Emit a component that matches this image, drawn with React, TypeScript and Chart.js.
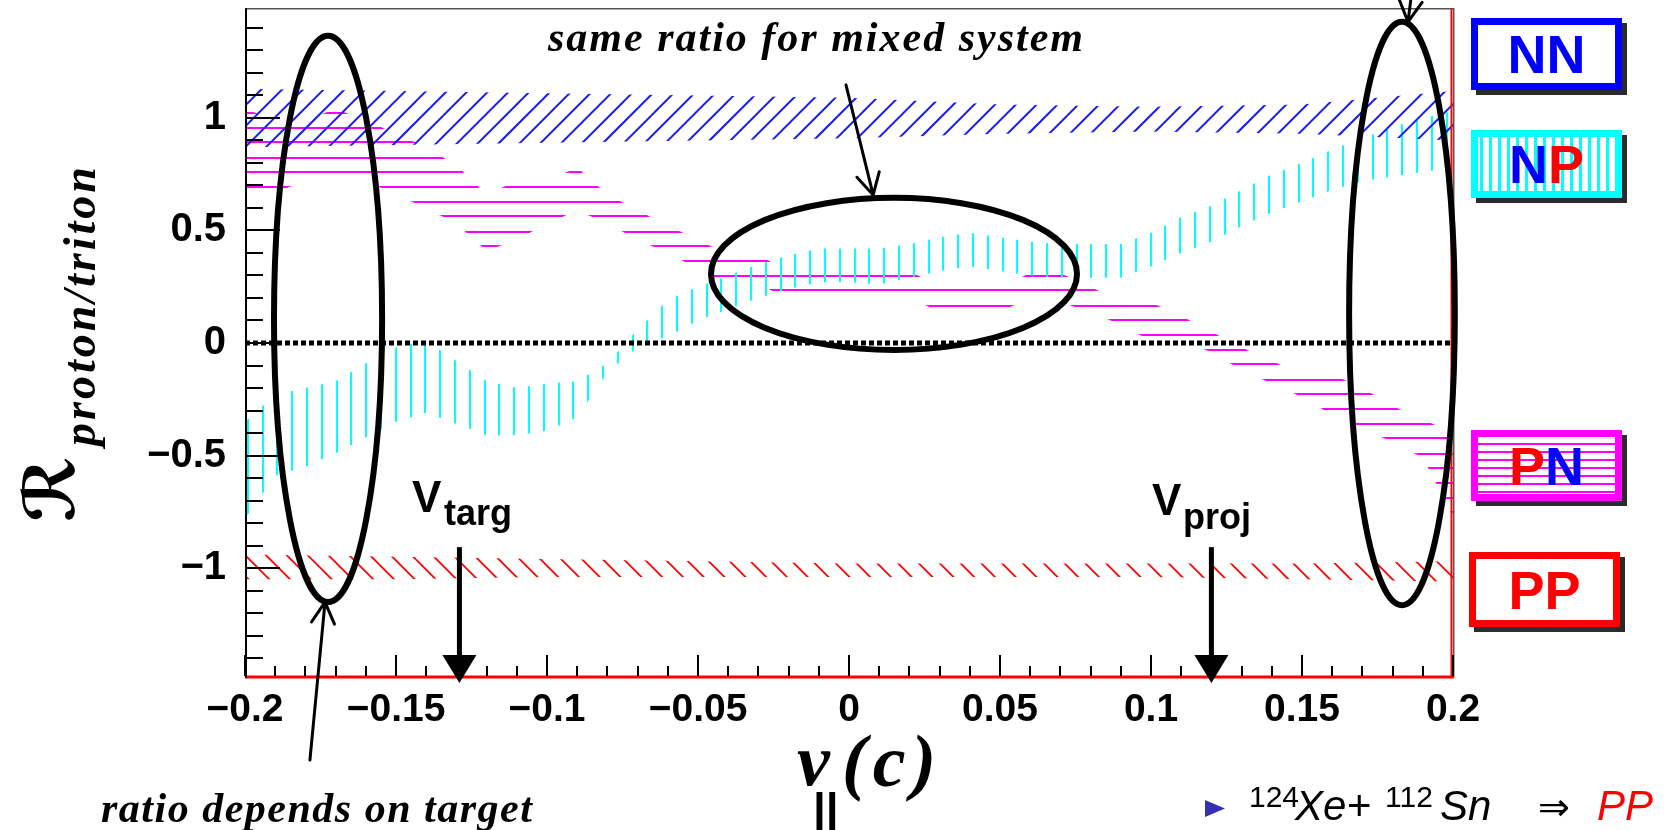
import React, { useEffect, useRef } from 'react';
import { Chart, registerables } from 'chart.js';

Chart.register(...registerables);

const W = 1665;
const H = 830;

// ---------- data ----------
const X_POINTS = [-0.2, -0.19, -0.18, -0.17, -0.16, -0.15, -0.14, -0.13, -0.12, -0.11, -0.1, -0.09, -0.08, -0.07, -0.06, -0.05, -0.04, -0.03, -0.02, -0.01, 0, 0.01, 0.02, 0.03, 0.04, 0.05, 0.06, 0.07, 0.08, 0.09, 0.1, 0.11, 0.12, 0.13, 0.14, 0.15, 0.16, 0.17, 0.18, 0.19, 0.2];

const NP_UPPER = [-0.35, -0.23, -0.2, -0.17, -0.09, -0.02, 0.01, -0.08, -0.17, -0.2, -0.18, -0.17, -0.09, 0.06, 0.19, 0.25, 0.3, 0.35, 0.39, 0.42, 0.42, 0.42, 0.44, 0.47, 0.49, 0.47, 0.45, 0.44, 0.44, 0.44, 0.49, 0.56, 0.61, 0.68, 0.75, 0.8, 0.86, 0.91, 0.96, 1.0, 1.03];
const NP_LOWER = [-0.78, -0.59, -0.55, -0.49, -0.42, -0.35, -0.31, -0.36, -0.41, -0.41, -0.39, -0.33, -0.13, -0.02, 0.03, 0.1, 0.15, 0.2, 0.24, 0.27, 0.27, 0.26, 0.29, 0.32, 0.34, 0.32, 0.3, 0.29, 0.29, 0.29, 0.34, 0.4, 0.45, 0.52, 0.58, 0.63, 0.68, 0.72, 0.74, 0.76, 0.78];

const PN_UPPER = [1.04, 0.99, 0.99, 1.04, 0.99, 0.93, 0.87, 0.79, 0.66, 0.72, 0.72, 0.78, 0.66, 0.59, 0.52, 0.46, 0.39, 0.39, 0.32, 0.32, 0.32, 0.32, 0.32, 0.25, 0.25, 0.25, 0.31, 0.31, 0.25, 0.18, 0.18, 0.12, 0.05, -0.02, -0.08, -0.14, -0.14, -0.2, -0.28, -0.34, -0.4];
const PN_LOWER = [0.67, 0.67, 0.72, 0.72, 0.72, 0.66, 0.6, 0.53, 0.41, 0.46, 0.53, 0.59, 0.53, 0.46, 0.4, 0.33, 0.26, 0.26, 0.2, 0.2, 0.2, 0.2, 0.2, 0.14, 0.14, 0.14, 0.2, 0.18, 0.14, 0.08, 0.01, 0.01, -0.04, -0.12, -0.18, -0.24, -0.32, -0.38, -0.44, -0.51, -0.77];

const COARSE_X = [-0.2, -0.15, -0.1, -0.05, 0, 0.05, 0.1, 0.15, 0.2];
const NN_UPPER = [1.13, 1.12, 1.11, 1.1, 1.09, 1.06, 1.05, 1.06, 1.12];
const NN_LOWER = [0.87, 0.88, 0.89, 0.9, 0.91, 0.93, 0.94, 0.93, 0.9];
const PP_UPPER = [-0.94, -0.95, -0.96, -0.97, -0.98, -0.98, -0.98, -0.98, -0.97];
const PP_LOWER = [-1.05, -1.05, -1.04, -1.04, -1.04, -1.04, -1.04, -1.05, -1.06];

const ZERO_X = [-0.2, 0.2];
const ZERO_Y = [0, 0];

const X_TICKS = [-0.2, -0.15, -0.1, -0.05, 0, 0.05, 0.1, 0.15, 0.2];
const Y_TICKS = [-1, -0.5, 0, 0.5, 1];
const X_RANGE = [-0.2, 0.2];
const Y_RANGE = [-1.484, 1.484];

// annotations (data units)
const ELLIPSES = [
  { cx: -0.1725, cy: 0.107, rx: 0.0179, ry: 1.258 },
  { cx: 0.0149, cy: 0.307, rx: 0.0606, ry: 0.338 },
  { cx: 0.1831, cy: 0.131, rx: 0.0175, ry: 1.296 },
];
const POINTER_ARROWS = [
  { x0: -0.001, y0: 1.147, x1: 0.008, y1: 0.658 },
  { x0: -0.1785, y0: -1.853, x1: -0.1735, y1: -1.151 },
  { x0: 0.1877, y0: 1.702, x1: 0.1851, y1: 1.427 },
];
const V_TARG = -0.129;
const V_PROJ = 0.12;
const V_ARROW_TOP = -0.907;
const V_ARROW_TIP = -1.511;

// ---------- styles ----------
const BLUE = '#1a1aff';
const CYAN = '#00ffff';
const MAGENTA = '#ff00ff';
const RED = '#ff0000';
const SANS = '"Liberation Sans", Arial, Helvetica, sans-serif';
const SERIF = '"Liberation Serif", "Times New Roman", Times, serif';

function fmtTick(v: number) {
  if (v === 0) return '0';
  return (v < 0 ? '\u2212' : '') + String(Math.abs(v));
}

function pts(xs: number[], ys: number[]) {
  return xs.map((x, i) => ({ x, y: ys[i] }));
}

function tile(w: number, h: number, draw: (g: CanvasRenderingContext2D) => void) {
  const c = document.createElement('canvas');
  c.width = w;
  c.height = h;
  const g = c.getContext('2d')!;
  draw(g);
  return c;
}

function openArrow(ctx: CanvasRenderingContext2D, x0: number, y0: number, x1: number, y1: number, lw: number) {
  ctx.save();
  ctx.strokeStyle = '#000';
  ctx.lineWidth = lw;
  ctx.lineCap = 'round';
  ctx.beginPath();
  ctx.moveTo(x0, y0);
  ctx.lineTo(x1, y1);
  const a = Math.atan2(y1 - y0, x1 - x0);
  const L = 24;
  const t = 0.5;
  ctx.moveTo(x1 - L * Math.cos(a - t), y1 - L * Math.sin(a - t));
  ctx.lineTo(x1, y1);
  ctx.lineTo(x1 - L * Math.cos(a + t), y1 - L * Math.sin(a + t));
  ctx.stroke();
  ctx.restore();
}

function drawPieces(ctx: CanvasRenderingContext2D, pieces: { t: string; c: string }[], cx: number, base: number, font: string) {
  ctx.font = font;
  const widths = pieces.map((p) => ctx.measureText(p.t).width);
  const total = widths.reduce((a, b) => a + b, 0);
  let x = cx - total / 2;
  ctx.textAlign = 'left';
  ctx.textBaseline = 'alphabetic';
  pieces.forEach((p, i) => {
    ctx.fillStyle = p.c;
    ctx.fillText(p.t, x, base);
    x += widths[i];
  });
}

type Box = { x: number; y: number; w: number; h: number; color: string; inner?: 'v' | 'h'; text: { t: string; c: string }[] };
const LEGEND: Box[] = [
  { x: 1471, y: 18, w: 151, h: 72, color: '#0000ff', text: [{ t: 'NN', c: '#0000ff' }] },
  { x: 1471, y: 130, w: 151, h: 68, color: CYAN, inner: 'v', text: [{ t: 'N', c: '#0000ff' }, { t: 'P', c: RED }] },
  { x: 1471, y: 430, w: 151, h: 71, color: MAGENTA, inner: 'h', text: [{ t: 'P', c: RED }, { t: 'N', c: '#0000ff' }] },
  { x: 1469, y: 552, w: 151, h: 75, color: RED, text: [{ t: 'PP', c: RED }] },
];

function drawLegend(ctx: CanvasRenderingContext2D) {
  LEGEND.forEach((b) => {
    ctx.fillStyle = '#2b2b2b';
    ctx.fillRect(b.x + 5, b.y + 5, b.w, b.h);
    ctx.fillStyle = '#fff';
    ctx.fillRect(b.x, b.y, b.w, b.h);
    if (b.inner === 'v') {
      ctx.fillStyle = CYAN;
      for (let xx = b.x + 9; xx < b.x + b.w - 6; xx += 9) ctx.fillRect(xx, b.y, 3, b.h);
    }
    if (b.inner === 'h') {
      ctx.fillStyle = MAGENTA;
      for (let yy = b.y + 13; yy < b.y + b.h - 6; yy += 8) ctx.fillRect(b.x, yy, b.w, 2);
    }
    const bw = 7;
    ctx.strokeStyle = b.color;
    ctx.lineWidth = bw;
    ctx.strokeRect(b.x + bw / 2, b.y + bw / 2, b.w - bw, b.h - bw);
    drawPieces(ctx, b.text, b.x + b.w / 2, b.y + b.h / 2 + 19, `bold 54px ${SANS}`);
  });
}

const decorPlugin = {
  id: 'decor',
  afterDatasetsDraw(chart: any) {
    const { ctx, chartArea: a, scales } = chart;
    const xs = scales.x;
    const ys = scales.y;
    ctx.save();
    // frame
    ctx.fillStyle = '#555';
    ctx.fillRect(a.left, a.top - 1, a.right - a.left, 1.5);
    ctx.fillRect(a.right, a.top - 1, 1.5, a.bottom - a.top + 1);
    ctx.fillStyle = RED;
    ctx.fillRect(a.right - 2.5, a.top, 2, a.bottom - a.top);
    ctx.fillRect(a.left, a.bottom - 1.5, a.right - a.left + 1, 3);
    ctx.fillStyle = '#000';
    ctx.fillRect(a.left, a.top - 1, 2, a.bottom - a.top + 2);
    // ticks
    ctx.strokeStyle = '#000';
    ctx.lineWidth = 2;
    ctx.beginPath();
    for (let i = -20; i <= 20; i++) {
      const px = Math.round(xs.getPixelForValue(i / 100));
      const len = i % 5 === 0 ? 21 : 10;
      ctx.moveTo(px, a.bottom - 1);
      ctx.lineTo(px, a.bottom - 1 - len);
    }
    for (let i = -14; i <= 14; i++) {
      const py = Math.round(ys.getPixelForValue(i / 10));
      const len = i % 5 === 0 ? 35 : 18;
      ctx.moveTo(a.left, py);
      ctx.lineTo(a.left + len, py);
    }
    ctx.stroke();
    ctx.restore();
  },
  afterDraw(chart: any) {
    const { ctx, scales } = chart;
    const xs = scales.x;
    const ys = scales.y;
    const X = (v: number) => xs.getPixelForValue(v);
    const Y = (v: number) => ys.getPixelForValue(v);
    ctx.save();

    // ellipses
    ctx.strokeStyle = '#000';
    ctx.lineWidth = 6;
    ELLIPSES.forEach((e) => {
      const cx = X(e.cx);
      const cy = Y(e.cy);
      const rx = Math.abs(X(e.cx + e.rx) - cx);
      const ry = Math.abs(Y(e.cy + e.ry) - cy);
      ctx.beginPath();
      ctx.ellipse(cx, cy, rx, ry, 0, 0, Math.PI * 2);
      ctx.stroke();
    });

    // pointer arrows
    POINTER_ARROWS.forEach((p) => openArrow(ctx, X(p.x0), Y(p.y0), X(p.x1), Y(p.y1), 3));

    // v_targ / v_proj arrows
    [V_TARG, V_PROJ].forEach((v) => {
      const px = X(v);
      const top = Y(V_ARROW_TOP);
      const tip = Y(V_ARROW_TIP);
      ctx.fillStyle = '#000';
      ctx.fillRect(px - 2.5, top, 5, tip - top - 20);
      ctx.beginPath();
      ctx.moveTo(px - 17, tip - 28);
      ctx.lineTo(px + 17, tip - 28);
      ctx.lineTo(px, tip);
      ctx.closePath();
      ctx.fill();
    });

    ctx.fillStyle = '#000';
    ctx.textAlign = 'left';
    ctx.textBaseline = 'alphabetic';
    ctx.font = `bold 44px ${SANS}`;
    ctx.fillText('V', 412, 512);
    ctx.fillText('V', 1152, 515);
    ctx.font = `bold 36px ${SANS}`;
    ctx.fillText('targ', 444, 525);
    ctx.fillText('proj', 1183, 529);

    // annotation texts
    (ctx as any).letterSpacing = '2px';
    ctx.font = `bold italic 42px ${SERIF}`;
    ctx.fillText('same ratio for mixed system', 548, 51);
    (ctx as any).letterSpacing = '1.5px';
    ctx.fillText('ratio depends on target', 101, 822);
    (ctx as any).letterSpacing = '0px';

    // x title
    ctx.font = `bold italic 74px ${SERIF}`;
    ctx.fillText('v', 797, 785);
    (ctx as any).letterSpacing = '6px';
    ctx.fillText('(c)', 842, 786);
    (ctx as any).letterSpacing = '0px';
    ctx.font = `bold 46px ${SANS}`;
    ctx.fillText('||', 813, 826);

    // y title
    ctx.save();
    ctx.translate(74, 522);
    ctx.rotate(-Math.PI / 2);
    ctx.font = `bold italic 70px "DejaVu Serif", "DejaVu Sans", serif`;
    ctx.fillText('\u211B', 0, 0);
    ctx.restore();
    ctx.save();
    ctx.translate(95, 446);
    ctx.rotate(-Math.PI / 2);
    (ctx as any).letterSpacing = '3px';
    ctx.font = `bold italic 46px ${SERIF}`;
    ctx.fillText('proton/triton', 0, 0);
    (ctx as any).letterSpacing = '0px';
    ctx.restore();

    // legend
    drawLegend(ctx);

    // bottom-right reaction text
    ctx.fillStyle = '#3333b2';
    ctx.beginPath();
    ctx.moveTo(1205, 800);
    ctx.lineTo(1225, 808.5);
    ctx.lineTo(1205, 817);
    ctx.closePath();
    ctx.fill();
    ctx.fillStyle = '#000';
    ctx.font = `30px ${SANS}`;
    ctx.fillText('124', 1249, 807);
    ctx.fillText('112', 1385, 807);
    ctx.font = `italic 42px ${SANS}`;
    ctx.fillText('Xe', 1295, 820);
    ctx.fillText('Sn', 1440, 820);
    ctx.font = `42px ${SANS}`;
    ctx.fillText('+', 1347, 820);
    ctx.font = `38px "DejaVu Sans", sans-serif`;
    ctx.fillText('\u21D2', 1538, 820);
    ctx.fillStyle = RED;
    ctx.font = `italic 42px ${SANS}`;
    ctx.fillText('PP', 1597, 820);

    ctx.restore();
  },
};

export default function App() {
  const ref = useRef<HTMLCanvasElement>(null);
  useEffect(() => {
    const canvas = ref.current!;
    const ctx = canvas.getContext('2d')!;

    const patVertical = ctx.createPattern(
      tile(74, 8, (g) => {
        g.fillStyle = CYAN;
        [11, 26, 41, 55, 70].forEach((x) => g.fillRect(x - 1, 0, 2, 8));
      }),
      'repeat'
    );
    const patHorizontal = ctx.createPattern(
      tile(8, 74, (g) => {
        g.fillStyle = MAGENTA;
        [10, 24, 39, 54, 68].forEach((y) => g.fillRect(0, y - 1, 8, 2));
      }),
      'repeat'
    );
    const patSlash = ctx.createPattern(
      tile(104, 104, (g) => {
        g.strokeStyle = BLUE;
        g.lineWidth = 2;
        for (let k = -2; k < 12; k++) {
          const c = 18 + k * 20.8;
          g.beginPath();
          g.moveTo(c + 5, -5);
          g.lineTo(c - 109, 109);
          g.stroke();
        }
      }),
      'repeat'
    );
    const patBackslash = ctx.createPattern(
      tile(104, 104, (g) => {
        g.strokeStyle = RED;
        g.lineWidth = 1.8;
        for (let k = -7; k < 8; k++) {
          const c = 2 + k * 20.8;
          g.beginPath();
          g.moveTo(c - 5, -5);
          g.lineTo(c + 109, 109);
          g.stroke();
        }
      }),
      'repeat'
    );

    const band = (label: string, data: any[], fill: any, bg: any) => ({
      label,
      data,
      borderColor: 'rgba(0,0,0,0)',
      borderWidth: 0,
      pointRadius: 0,
      tension: 0,
      fill,
      backgroundColor: bg,
    });

    const chart = new Chart(canvas, {
      type: 'line',
      data: {
        datasets: [
          {
            label: 'zero',
            data: pts(ZERO_X, ZERO_Y),
            borderColor: '#000',
            borderWidth: 5,
            borderDash: [5, 3],
            pointRadius: 0,
            fill: false,
          },
          band('NN up', pts(COARSE_X, NN_UPPER), { target: '+1', above: patSlash, below: patSlash }, patSlash),
          band('NN low', pts(COARSE_X, NN_LOWER), false, 'rgba(0,0,0,0)'),
          band('NP up', pts(X_POINTS, NP_UPPER), { target: '+1', above: patVertical, below: patVertical }, patVertical),
          band('NP low', pts(X_POINTS, NP_LOWER), false, 'rgba(0,0,0,0)'),
          band('PN up', pts(X_POINTS, PN_UPPER), { target: '+1', above: patHorizontal, below: patHorizontal }, patHorizontal),
          band('PN low', pts(X_POINTS, PN_LOWER), false, 'rgba(0,0,0,0)'),
          band('PP up', pts(COARSE_X, PP_UPPER), { target: '+1', above: patBackslash, below: patBackslash }, patBackslash),
          band('PP low', pts(COARSE_X, PP_LOWER), false, 'rgba(0,0,0,0)'),
        ] as any,
      },
      options: {
        responsive: false,
        maintainAspectRatio: false,
        animation: false,
        devicePixelRatio: 1,
        events: [],
        layout: { padding: { top: 9, right: 212, left: 0, bottom: 0 } },
        plugins: {
          legend: { display: false },
          tooltip: { enabled: false },
          filler: { propagate: false },
        },
        scales: {
          x: {
            type: 'linear',
            min: X_RANGE[0],
            max: X_RANGE[1],
            grid: { display: false, drawTicks: false },
            border: { display: false },
            afterBuildTicks: (s: any) => {
              s.ticks = X_TICKS.map((v) => ({ value: v }));
            },
            afterFit: (s: any) => {
              s.height = H - 677;
              s.paddingLeft = 0;
              s.paddingRight = 0;
            },
            ticks: {
              autoSkip: false,
              maxRotation: 0,
              minRotation: 0,
              padding: 10,
              color: '#000',
              font: { family: SANS, weight: 'bold', size: 39 },
              callback: (v: any) => fmtTick(Number(v)),
            },
          },
          y: {
            type: 'linear',
            min: Y_RANGE[0],
            max: Y_RANGE[1],
            grid: { display: false, drawTicks: false },
            border: { display: false },
            afterBuildTicks: (s: any) => {
              s.ticks = Y_TICKS.map((v) => ({ value: v }));
            },
            afterFit: (s: any) => {
              s.width = 245;
              s.paddingTop = 0;
              s.paddingBottom = 0;
            },
            ticks: {
              autoSkip: false,
              padding: 19,
              color: '#000',
              font: { family: SANS, weight: 'bold', size: 40 },
              callback: (v: any) => fmtTick(Number(v)),
            },
          },
        },
      } as any,
      plugins: [decorPlugin],
    });
    return () => chart.destroy();
  }, []);

  return (
    <div style={{ position: 'fixed', left: 0, top: 0, width: W, height: H, background: '#fff' }}>
      <canvas ref={ref} width={W} height={H} style={{ width: W, height: H, display: 'block' }} />
    </div>
  );
}
